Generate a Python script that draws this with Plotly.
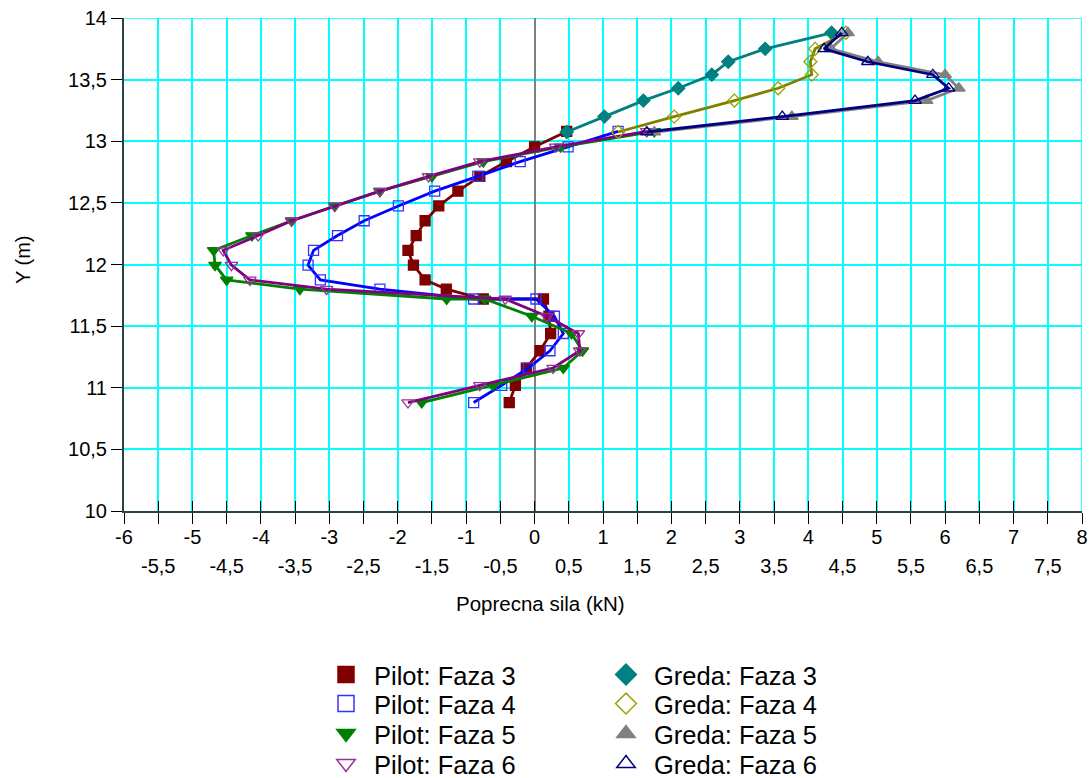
import plotly.graph_objects as go

# ---------------- data ----------------
pilot_y = [13.08, 12.955, 12.835, 12.715, 12.595, 12.475, 12.355, 12.235, 12.115, 11.995,
           11.875, 11.80, 11.72, 11.72, 11.58, 11.44, 11.30, 11.16, 11.02, 10.88]
pilot_f3 = [0.47, 0.0, -0.41, -0.80, -1.12, -1.40, -1.60, -1.73, -1.85, -1.77,
            -1.60, -1.29, -0.75, 0.13, 0.21, 0.235, 0.08, -0.12, -0.28, -0.37]
pilot_f4 = [1.22, 0.49, -0.21, -0.83, -1.46, -1.99, -2.49, -2.88, -3.23, -3.31,
            -3.13, -2.26, -0.89, 0.02, 0.29, 0.42, 0.225, -0.09, -0.48, -0.89]
pilot_f5 = [1.75, 0.38, -0.75, -1.50, -2.26, -2.92, -3.55, -4.13, -4.69, -4.67,
            -4.50, -3.43, -1.285, -0.73, -0.04, 0.54, 0.70, 0.42, -0.61, -1.65]
pilot_y6 = [13.08, 12.955, 12.835, 12.715, 12.595, 12.475, 12.355, 12.235, 12.115, 11.995,
            11.875, 11.80, 11.72, 11.58, 11.44, 11.30, 11.16, 11.02, 10.88]
pilot_f6 = [1.64, 0.31, -0.80, -1.55, -2.26, -2.92, -3.55, -4.04, -4.55, -4.43,
            -4.16, -3.04, -0.43, 0.18, 0.64, 0.66, 0.27, -0.80, -1.85]

greda_y = [13.88, 13.75, 13.645, 13.54, 13.43, 13.33, 13.20, 13.075]
greda_f3 = [4.34, 3.37, 2.83, 2.59, 2.10, 1.59, 1.02, 0.47]
greda_f4 = [4.55, 4.10, 4.03, 4.05, 3.56, 2.92, 2.04, 1.22]
greda_f5 = [4.58, 4.33, 5.02, 6.00, 6.20, 5.73, 3.76, 1.75]
greda_f6 = [4.49, 4.23, 4.87, 5.82, 6.05, 5.56, 3.62, 1.64]

x_range = [-6, 8]
y_range = [10, 14]
x_int_ticks = list(range(-6, 9))
x_int_text = [str(v) for v in x_int_ticks]
x_half_ticks = [v + 0.5 for v in range(-6, 8)]
x_half_text = [("%g" % v).replace(".", ",") for v in x_half_ticks]
x_all_ticks = sorted(x_int_ticks + x_half_ticks)
y_ticks = [10 + 0.5 * i for i in range(9)]
y_text = [("%g" % v).replace(".", ",") for v in y_ticks]

x_title = "Poprecna sila (kN)"
y_title = "Y (m)"

FONT = "Arial, 'Liberation Sans', sans-serif"

# name, x, y, line colour, marker colour, symbol, size, legend row
series = [
    ("Pilot: Faza 3", pilot_f3, pilot_y, "#800000", "#800000", "square", 10, 1),
    ("Pilot: Faza 4", pilot_f4, pilot_y, "#0000ff", "#3333ff", "square-open", 10, 2),
    ("Pilot: Faza 5", pilot_f5, pilot_y, "#008000", "#008000", "triangle-down", 11, 3),
    ("Pilot: Faza 6", pilot_f6, pilot_y6, "#800080", "#993399", "triangle-down-open", 11, 4),
    ("Greda: Faza 3", greda_f3, greda_y, "#008080", "#008080", "diamond", 10, 1),
    ("Greda: Faza 4", greda_f4, greda_y, "#808000", "#a0a000", "diamond-open", 10, 2),
    ("Greda: Faza 5", greda_f5, greda_y, "#808080", "#808080", "triangle-up", 11, 3),
    ("Greda: Faza 6", greda_f6, greda_y, "#000080", "#000080", "triangle-up-open", 11, 4),
]

fig = go.Figure()

for name, xs, ys, lc, mc, sym, sz, row in series:
    fig.add_trace(go.Scatter(
        x=xs, y=ys, mode="lines+markers", name=name, showlegend=False,
        line=dict(color=lc, width=2.8),
        marker=dict(symbol=sym, size=sz, color=mc, line=dict(color=mc, width=1.3)),
    ))

legend_names = ["legend", "legend2", "legend3", "legend4"]
for name, xs, ys, lc, mc, sym, sz, row in series:
    fig.add_trace(go.Scatter(
        x=[None], y=[None], mode="markers", name=name, showlegend=True,
        legend=legend_names[row - 1],
        marker=dict(symbol=sym, size=16, color=mc, line=dict(color=mc, width=1.5)),
    ))

# helper traces for the overlay axes
fig.add_trace(go.Scatter(x=[None], y=[None], xaxis="x2", showlegend=False, hoverinfo="skip"))
fig.add_trace(go.Scatter(x=[None], y=[None], xaxis="x3", showlegend=False, hoverinfo="skip"))

# body margin is removed by the post script, so page pixels == figure pixels
W, H = 1089, 778
L, R, T, B = 124, 7, 18, 267
pw, ph = W - L - R, H - T - B

def px_x(p):
    return (p - L) / pw

def px_y(p):
    return (H - B - p) / ph

axis_line = "#2a4444"
grid_c = "#00ffff"

row_centers = [675, 704, 734, 764]
legend_common = dict(
    orientation="h", entrywidth=219, entrywidthmode="pixels",
    font=dict(family=FONT, size=25.5, color="#000000"),
    bgcolor="rgba(0,0,0,0)", borderwidth=0, itemwidth=46,
    xanchor="left", yanchor="middle", tracegroupgap=0,
)
layout_legends = {}
for i, ln in enumerate(legend_names):
    layout_legends[ln] = dict(legend_common, x=px_x(318), y=px_y(row_centers[i]))

fig.update_layout(
    width=W, height=H,
    margin=dict(l=L, r=R, t=T, b=B, autoexpand=False),
    paper_bgcolor="white", plot_bgcolor="white",
    font=dict(family=FONT, size=20, color="#000000"),
    xaxis=dict(
        range=x_range, tickmode="array", tickvals=x_int_ticks, ticktext=x_int_text,
        ticks="outside", ticklen=11, tickwidth=1.3, tickcolor="#000000",
        showgrid=True, gridcolor=grid_c, gridwidth=1.5,
        minor=dict(tickvals=x_half_ticks, ticks="outside", ticklen=11, tickwidth=1.3,
                   tickcolor="#000000", showgrid=True, gridcolor=grid_c, gridwidth=1.5),
        zeroline=True, zerolinecolor="#808080", zerolinewidth=1.5,
        showline=True, linecolor=axis_line, linewidth=2,
        tickfont=dict(family=FONT, size=20, color="#000000"),
        ticklabelstandoff=-4, ticklabeloverflow="allow",
        automargin=False, fixedrange=True,
    ),
    xaxis2=dict(
        overlaying="x", anchor="y", side="bottom", range=x_range,
        tickmode="array", tickvals=x_half_ticks, ticktext=x_half_text,
        ticks="", showgrid=False, zeroline=False, showline=False,
        ticklabelstandoff=41, ticklabeloverflow="allow",
        tickfont=dict(family=FONT, size=20, color="#000000"),
        automargin=False, fixedrange=True,
    ),
    xaxis3=dict(
        overlaying="x", anchor="y", side="bottom", range=x_range,
        tickmode="array", tickvals=x_all_ticks, showticklabels=False,
        ticks="inside", ticklen=10, tickwidth=1.3, tickcolor="#000000",
        showgrid=False, zeroline=False, showline=False,
        automargin=False, fixedrange=True,
    ),
    yaxis=dict(
        range=y_range, tickmode="array", tickvals=y_ticks, ticktext=y_text,
        ticks="outside", ticklen=11, tickwidth=1.3, tickcolor="#000000",
        showgrid=True, gridcolor=grid_c, gridwidth=1.5,
        zeroline=False, showline=True, linecolor=axis_line, linewidth=2,
        tickfont=dict(family=FONT, size=20, color="#000000"),
        ticklabeloverflow="allow",
        automargin=False, fixedrange=True,
    ),
    shapes=[
        # grid lines at the upper and right range limits (plotly skips edge grid lines)
        dict(type="line", xref="paper", x0=0, x1=1, yref="y", y0=y_range[1], y1=y_range[1],
             line=dict(color=grid_c, width=1.5), layer="below"),
        dict(type="line", xref="x", x0=x_range[1], x1=x_range[1], yref="paper", y0=0, y1=1,
             line=dict(color=grid_c, width=1.5), layer="below"),
    ],
    annotations=[
        dict(text=x_title, xref="paper", yref="paper", x=px_x(540), y=px_y(603),
             xanchor="center", yanchor="middle", showarrow=False,
             font=dict(family=FONT, size=20.5, color="#000000")),
        dict(text=y_title, xref="paper", yref="paper", x=px_x(23), y=px_y(260),
             xanchor="center", yanchor="middle", showarrow=False, textangle=-90,
             font=dict(family=FONT, size=20, color="#000000")),
    ],
    **layout_legends,
)

fig.write_html(
    "out.html",
    config={"displayModeBar": False},
    post_script="document.body.style.margin='0px';document.body.style.overflow='hidden';",
)
